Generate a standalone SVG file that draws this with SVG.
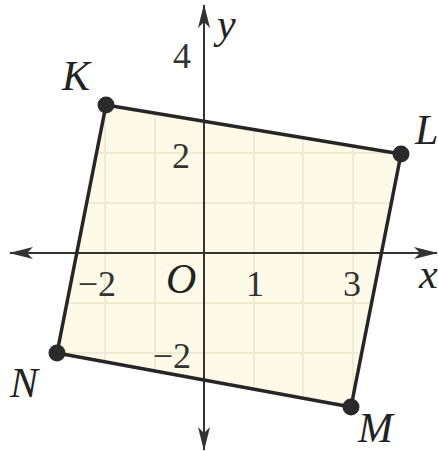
<svg xmlns="http://www.w3.org/2000/svg" width="438" height="451" viewBox="0 0 438 451">
<style>
.lbl{font-family:"Liberation Serif","Times New Roman",serif;font-style:italic;font-size:42px;fill:#222}
.num{font-family:"Liberation Serif","Times New Roman",serif;font-size:36px;fill:#333}
.ax{stroke:#333;stroke-width:2;fill:none}
.edge{stroke:#262626;stroke-width:3.5;fill:none;stroke-linecap:round}
.grid{stroke:#EEEAD3;stroke-width:2}
.dot{fill:#2a2a2a}
</style>
<defs>
<marker id="arr" viewBox="0 0 24 12" refX="23" refY="6" markerWidth="24" markerHeight="12" markerUnits="userSpaceOnUse" orient="auto">
<path d="M0,0 L24,6 L0,12 L6,6 Z" fill="#333"/>
</marker>
<clipPath id="clip"><polygon points="106,105 401,154 351,407 57,353"/></clipPath>
</defs>
<rect width="438" height="451" fill="#fff"/>
<polygon id="region" points="106,105 401,154 351,407 57,353" fill="#FDFBE8"/>
<g id="grid" class="grid" clip-path="url(#clip)">
<line x1="56" y1="0" x2="56" y2="451"/>
<line x1="105" y1="0" x2="105" y2="451"/>
<line x1="155" y1="0" x2="155" y2="451"/>
<line x1="254" y1="0" x2="254" y2="451"/>
<line x1="303" y1="0" x2="303" y2="451"/>
<line x1="353" y1="0" x2="353" y2="451"/>
<line x1="0" y1="104" x2="438" y2="104"/>
<line x1="0" y1="153" x2="438" y2="153"/>
<line x1="0" y1="203" x2="438" y2="203"/>
<line x1="0" y1="303" x2="438" y2="303"/>
<line x1="0" y1="353" x2="438" y2="353"/>
<line x1="0" y1="403" x2="438" y2="403"/>
</g>
<g id="axes">
<line class="ax" x1="204" y1="253" x2="437" y2="253" marker-end="url(#arr)"/>
<line class="ax" x1="204" y1="253" x2="10" y2="253" marker-end="url(#arr)"/>
<line class="ax" x1="204" y1="253" x2="204" y2="5" marker-end="url(#arr)"/>
<line class="ax" x1="204" y1="253" x2="204" y2="450" marker-end="url(#arr)"/>
<text class="lbl" x="217" y="38" font-size="34">y</text>
<text class="lbl" x="419" y="288" font-size="38">x</text>
<text class="lbl" x="166" y="293" font-size="38">O</text>
<text class="num" x="182" y="68" text-anchor="middle">4</text>
<text class="num" x="181" y="168" text-anchor="middle">2</text>
<text class="num" x="191" y="368" text-anchor="end">−2</text>
<text class="num" x="116" y="296" text-anchor="end">−2</text>
<text class="num" x="255" y="296" text-anchor="middle">1</text>
<text class="num" x="352" y="296" text-anchor="middle">3</text>
</g>
<g id="connectors">
<line class="edge" x1="106" y1="105" x2="401" y2="154"/>
<line class="edge" x1="401" y1="154" x2="351" y2="407"/>
<line class="edge" x1="351" y1="407" x2="57" y2="353"/>
<line class="edge" x1="57" y1="353" x2="106" y2="105"/>
</g>
<g id="K"><circle class="dot" cx="106" cy="105" r="8.5"/><text class="lbl" x="62" y="90">K</text></g>
<g id="L"><circle class="dot" cx="401" cy="154" r="8.5"/><text class="lbl" x="415" y="144">L</text></g>
<g id="M"><circle class="dot" cx="351" cy="407" r="8.5"/><text class="lbl" x="358" y="442" font-size="40">M</text></g>
<g id="N"><circle class="dot" cx="57" cy="353" r="8.5"/><text class="lbl" x="10" y="397">N</text></g>
</svg>
